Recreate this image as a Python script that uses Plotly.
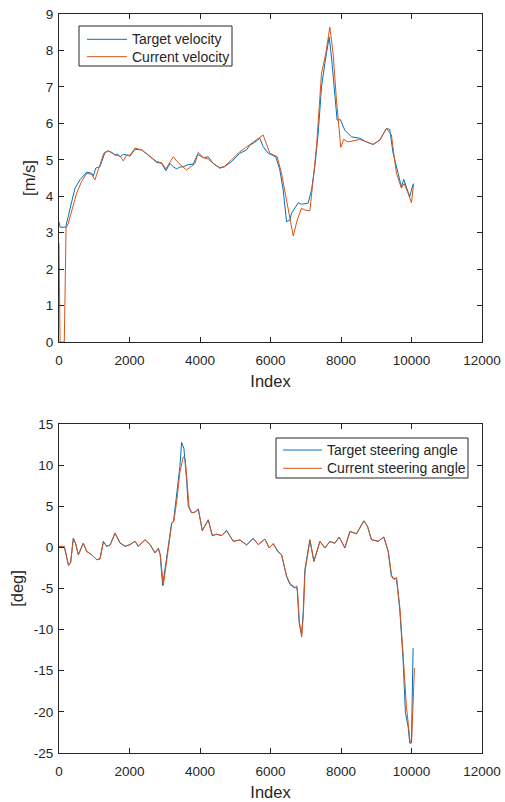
import plotly.graph_objects as go

# ---------------- data ----------------
vel_target_idx = [0, 30, 190, 264, 360, 454, 595, 785, 926, 973, 1040, 1162, 1304, 1398, 1500, 1588, 1660, 1730,
                  1824, 1920, 2013, 2155, 2344, 2533, 2769, 2911, 3033, 3147, 3240, 3336, 3430, 3525, 3667, 3808,
                  3932, 4091, 4233, 4375, 4564, 4700, 4895, 5131, 5320, 5415, 5537, 5698, 5792, 5934, 6152, 6265,
                  6360, 6455, 6550, 6597, 6786, 6880, 7069, 7163, 7258, 7352, 7447, 7541, 7607, 7664, 7730, 7825,
                  7890, 7985, 8108, 8297, 8533, 8700, 8911, 9100, 9289, 9383, 9478, 9620, 9714, 9780, 9856, 9950,
                  10045]
vel_target = [3.30, 3.15, 3.15, 3.49, 3.85, 4.22, 4.45, 4.66, 4.63, 4.55, 4.77, 4.81, 5.20, 5.24, 5.20, 5.13, 5.16,
              5.08, 5.15, 5.13, 5.10, 5.29, 5.27, 5.13, 4.93, 4.90, 4.70, 4.90, 4.81, 4.75, 4.80, 4.81, 4.87, 4.88,
              5.15, 5.06, 5.08, 4.90, 4.77, 4.81, 4.95, 5.18, 5.27, 5.40, 5.47, 5.59, 5.36, 5.18, 5.08, 4.72, 4.17,
              3.30, 3.35, 3.53, 3.82, 3.78, 3.81, 4.17, 4.81, 5.72, 7.00, 7.64, 8.10, 8.37, 7.82, 6.73, 6.09, 6.10,
              5.81, 5.63, 5.59, 5.50, 5.42, 5.54, 5.86, 5.83, 5.18, 4.63, 4.26, 4.46, 4.26, 3.99, 4.33]

vel_current_idx = [0, 30, 150, 200, 264, 360, 500, 640, 785, 926, 1020, 1130, 1270, 1398, 1500, 1588, 1730, 1824,
                   1920, 2013, 2155, 2344, 2533, 2769, 2911, 3033, 3240, 3400, 3620, 3860, 3950, 4091, 4233, 4375,
                   4564, 4700, 4895, 5131, 5320, 5537, 5698, 5792, 5981, 6190, 6312, 6455, 6645, 6758, 6880, 6975,
                   7116, 7210, 7305, 7447, 7569, 7683, 7777, 7871, 7937, 7994, 8079, 8202, 8533, 8700, 8911, 9100,
                   9289, 9430, 9572, 9714, 9790, 9903, 9998, 10063]
vel_current = [2.72, 0.00, 0.00, 3.12, 3.26, 3.58, 4.08, 4.40, 4.63, 4.60, 4.45, 4.77, 5.18, 5.25, 5.18, 5.13, 5.10,
               4.97, 5.13, 5.12, 5.32, 5.27, 5.13, 4.95, 4.92, 4.75, 5.08, 4.90, 4.72, 4.90, 5.20, 5.06, 5.02, 4.90,
               4.78, 4.82, 5.00, 5.22, 5.35, 5.50, 5.60, 5.68, 5.18, 5.08, 4.63, 3.90, 2.91, 3.35, 3.67, 3.62, 3.60,
               4.45, 5.36, 7.37, 7.92, 8.64, 7.92, 6.64, 5.81, 5.34, 5.56, 5.49, 5.56, 5.50, 5.42, 5.54, 5.86, 5.68,
               4.63, 4.22, 4.35, 4.08, 3.82, 4.35]

steer_target_idx = [0, 150, 264, 330, 405, 470, 547, 689, 785, 926, 1068, 1162, 1257, 1351, 1450, 1588, 1730, 1871,
                    2013, 2155, 2249, 2438, 2580, 2722, 2816, 2870, 2939, 3100, 3194, 3250, 3336, 3431, 3478, 3544,
                    3620, 3667, 3761, 3860, 3950, 4063, 4233, 4346, 4470, 4611, 4753, 4942, 5131, 5320, 5510, 5650,
                    5839, 5962, 6076, 6200, 6312, 6455, 6550, 6691, 6738, 6760, 6813, 6880, 6927, 6975, 7116, 7229,
                    7400, 7541, 7683, 7825, 7947, 8108, 8250, 8438, 8646, 8750, 8863, 9052, 9213, 9336, 9430, 9500,
                    9572, 9667, 9761, 9827, 9903, 9950, 9998, 10026, 10045]
steer_target = [0.12, 0.12, -2.11, -1.90, 1.14, 0.50, -0.89, 0.53, -0.49, -0.89, -1.50, -1.40, 0.73, 0.12, 0.30,
                1.75, 0.53, 0.12, 0.33, 0.73, 0.12, 0.93, 0.33, -0.69, -0.10, -0.89, -4.66, 0.53, 2.96, 3.20, 6.20,
                9.85, 12.77, 12.00, 8.23, 4.98, 4.20, 4.30, 4.67, 2.03, 3.36, 1.42, 1.60, 1.42, 2.06, 0.73, 0.90,
                0.30, 1.10, 0.33, 1.00, -0.08, 0.45, -0.48, -0.89, -3.53, -4.50, -4.94, -4.74, -5.30, -9.19, -10.60,
                -8.00, -2.71, 0.93, -1.70, 0.73, -0.07, 0.73, 0.50, 1.26, -0.08, 1.94, 1.66, 3.24, 2.55, 0.93, 0.73,
                1.26, -0.49, -3.53, -3.90, -3.73, -7.58, -13.65, -20.10, -21.77, -23.80, -23.80, -16.90, -12.23]

steer_current_idx = [0, 150, 270, 330, 410, 470, 552, 694, 790, 926, 1073, 1167, 1262, 1356, 1450, 1593, 1735, 1876,
                     2018, 2160, 2254, 2443, 2585, 2727, 2821, 2875, 2960, 3110, 3200, 3260, 3350, 3431, 3525, 3580,
                     3640, 3690, 3770, 3865, 3955, 4068, 4238, 4351, 4475, 4616, 4758, 4947, 5136, 5325, 5515, 5655,
                     5844, 5967, 6081, 6205, 6317, 6460, 6555, 6696, 6743, 6765, 6818, 6885, 6932, 6980, 7121, 7234,
                     7405, 7546, 7688, 7830, 7952, 8113, 8255, 8443, 8651, 8755, 8868, 9057, 9218, 9341, 9435, 9505,
                     9577, 9672, 9766, 9855, 9910, 9960, 10005, 10050, 10083]
steer_current = [0.10, 0.10, -2.20, -1.80, 1.10, 0.45, -0.90, 0.50, -0.50, -0.90, -1.50, -1.40, 0.70, 0.15, 0.30,
                 1.70, 0.55, 0.15, 0.35, 0.75, 0.15, 0.90, 0.35, -0.65, -0.15, -0.90, -4.60, 0.40, 2.90, 3.20, 6.00,
                 9.20, 11.00, 10.80, 7.00, 4.90, 4.20, 4.30, 4.60, 2.05, 3.30, 1.45, 1.60, 1.45, 2.00, 0.75, 0.90,
                 0.30, 1.05, 0.35, 1.00, -0.05, 0.45, -0.45, -0.90, -3.50, -4.40, -4.90, -4.70, -5.20, -9.00, -10.90,
                 -8.20, -2.90, 0.90, -1.70, 0.70, -0.05, 0.70, 0.50, 1.25, -0.05, 1.90, 1.65, 3.20, 2.55, 0.95, 0.75,
                 1.25, -0.45, -3.40, -3.80, -3.70, -7.40, -13.30, -19.30, -21.50, -23.60, -23.50, -18.00, -14.66]

x_ticks = [0, 2000, 4000, 6000, 8000, 10000, 12000]
x_ticktext = ["0", "2000", "4000", "6000", "8000", "10000", "12000"]
v_ticks = [0, 1, 2, 3, 4, 5, 6, 7, 8, 9]
v_ticktext = ["0", "1", "2", "3", "4", "5", "6", "7", "8", "9"]
s_ticks = [-25, -20, -15, -10, -5, 0, 5, 10, 15]
s_ticktext = ["-25", "-20", "-15", "-10", "-5", "0", "5", "10", "15"]

vel_names = ["Target velocity", "Current velocity"]
steer_names = ["Target steering angle", "Current steering angle"]

# ---------------- style ----------------
BLUE = "#0072BD"
ORANGE = "#D95319"
AX = "#262626"
FONT = "Liberation Sans, Arial, Helvetica, sans-serif"
COLORS = [BLUE, ORANGE]

W, H = 505, 802
# target plot-area edges in pixels
PLOT_L, PLOT_R = 59, 482
TOP_T, TOP_B = 14, 342
BOT_T, BOT_B = 424, 753

ML = PLOT_L
MR = W - PLOT_R
MT = TOP_T
MB = H - BOT_B
PW, PH = W - ML - MR, H - MT - MB


def px_x(px):
    return (px - ML) / PW


def px_y(py):
    return (H - MB - py) / PH


fig = go.Figure()
for nm, xs, ys, c in [(vel_names[0], vel_target_idx, vel_target, BLUE),
                      (vel_names[1], vel_current_idx, vel_current, ORANGE)]:
    fig.add_trace(go.Scatter(x=xs, y=ys, mode="lines", name=nm, line=dict(color=c, width=1),
                             xaxis="x", yaxis="y", showlegend=False))
for nm, xs, ys, c in [(steer_names[0], steer_target_idx, steer_target, BLUE),
                      (steer_names[1], steer_current_idx, steer_current, ORANGE)]:
    fig.add_trace(go.Scatter(x=xs, y=ys, mode="lines", name=nm, line=dict(color=c, width=1),
                             xaxis="x2", yaxis="y2", showlegend=False))

common_axis = dict(showgrid=False, zeroline=False, showline=True, linecolor=AX, linewidth=1, mirror="ticks",
                   ticks="inside", ticklen=5, tickcolor=AX, tickwidth=1, automargin=False,
                   ticklabeloverflow="allow",
                   tickfont=dict(family=FONT, size=13.5, color=AX))

top_dom = [px_y(TOP_B), 1]
bot_dom = [0, px_y(BOT_T)]

fig.update_layout(
    width=W, height=H,
    margin=dict(l=ML, r=MR, t=MT, b=MB, autoexpand=False),
    paper_bgcolor="white", plot_bgcolor="white",
    font=dict(family=FONT, color=AX),
    showlegend=False,
    hovermode=False,
    xaxis=dict(domain=[0, 1], anchor="y", range=[0, 12000], tickvals=x_ticks, ticktext=x_ticktext,
               ticklabelstandoff=6,
               title=dict(text="Index", font=dict(size=16.5, color=AX), standoff=8), **common_axis),
    yaxis=dict(domain=top_dom, anchor="x", range=[0, 9], tickvals=v_ticks, ticktext=v_ticktext,
               ticklabelstandoff=2,
               title=dict(text="[m/s]", font=dict(size=16.5, color=AX), standoff=6), **common_axis),
    xaxis2=dict(domain=[0, 1], anchor="y2", range=[0, 12000], tickvals=x_ticks, ticktext=x_ticktext,
                ticklabelstandoff=6,
                title=dict(text="Index", font=dict(size=16.5, color=AX), standoff=8), **common_axis),
    yaxis2=dict(domain=bot_dom, anchor="x2", range=[-25, 15], tickvals=s_ticks, ticktext=s_ticktext,
                ticklabelstandoff=2,
                title=dict(text="[deg]", font=dict(size=16.5, color=AX), standoff=6), **common_axis),
)

# ---------------- legends (box, line samples, labels) ----------------
legend_specs = [
    # box x0, x1, y0, y1 (px), sample x0, x1, text x, item rows y, names
    (79, 232, 26, 66, 87, 127, 130, [39.3, 56.7], vel_names),
    (276, 468, 438, 478, 283, 322, 325, [450.0, 468.3], steer_names),
]
shapes = []
annotations = []
for bx0, bx1, by0, by1, sx0, sx1, tx, rows, names in legend_specs:
    shapes.append(dict(type="rect", xref="paper", yref="paper", x0=px_x(bx0), x1=px_x(bx1),
                       y0=px_y(by1), y1=px_y(by0), line=dict(color=AX, width=1), fillcolor="white", layer="above"))
    for ry, nm, c in zip(rows, names, COLORS):
        shapes.append(dict(type="line", xref="paper", yref="paper", x0=px_x(sx0), x1=px_x(sx1),
                           y0=px_y(ry), y1=px_y(ry), line=dict(color=c, width=1), layer="above"))
        annotations.append(dict(text=nm, xref="paper", yref="paper", x=px_x(tx), y=px_y(ry),
                                xanchor="left", yanchor="middle", showarrow=False,
                                font=dict(family=FONT, size=14, color=AX)))
fig.update_layout(shapes=shapes, annotations=annotations)

# remove the page's default body margin so the figure fills the window exactly
fig.write_html("out.html", config={"displayModeBar": False},
               post_script="document.body.style.margin='0';document.body.style.overflow='hidden';")
